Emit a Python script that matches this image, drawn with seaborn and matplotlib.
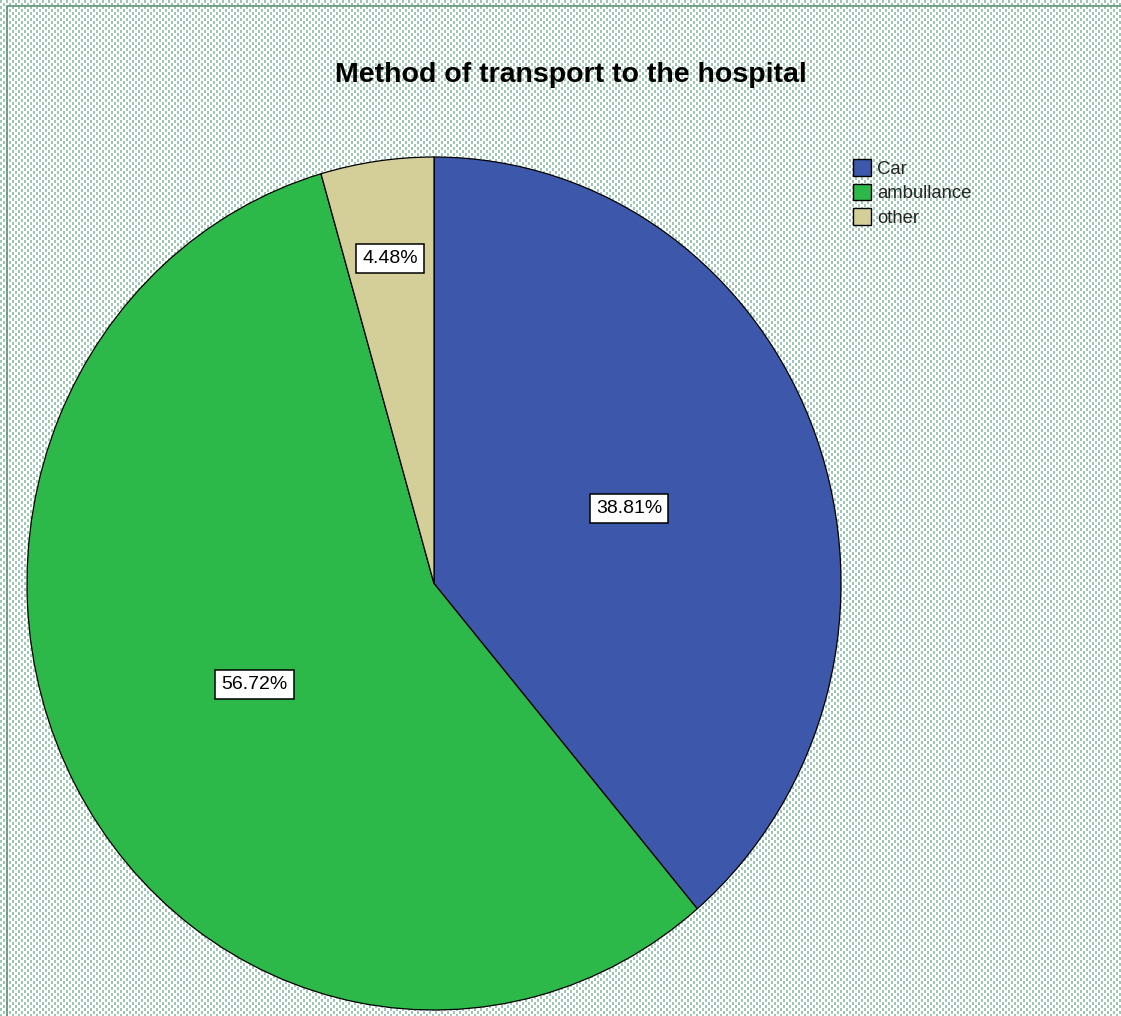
import numpy as np
import matplotlib
matplotlib.use("Agg")
import matplotlib.pyplot as plt
from matplotlib.patches import Patch, Rectangle
import seaborn as sns

# Data: patients by method of transport (n = 67)
categories = ["Car", "ambullance", "other"]
counts = [26, 38, 3]
colors = ["#3D57AB", "#2DB84A", "#D4CE99"]
label_radius = [0.51, 0.5, 0.77]
title = "Method of transport to the hospital"

sns.set_theme(style="white")
plt.rcParams["font.family"] = ["Liberation Sans", "DejaVu Sans"]

W, H = 1121, 1016
fig = plt.figure(figsize=(W / 100, H / 100), dpi=100)

# dotted backdrop
py, px = np.mgrid[0:H, 0:W]
dots = (((px % 6) < 2) & ((py % 6) < 3)) | ((((px + 3) % 6) < 2) & (((py + 3) % 6) < 3))
bg = np.ones((H, W, 3))
dot_rgb = np.array([0x9c, 0xc8, 0xb2]) / 255.0
bg[dots] = dot_rgb
fig.figimage(bg, xo=0, yo=0, origin="upper", zorder=-5)

# frame line along top and left
fig.add_artist(Rectangle((7 / W, -0.01), 1.2, (H - 6) / H + 0.01, transform=fig.transFigure,
                         fill=False, edgecolor="#5f9278", linewidth=1.2, zorder=-4))

ax = fig.add_axes([27 / W, 6 / H, (841 - 27) / W, (1010 - 157) / H], zorder=3)
ax.set_facecolor("none")
ax.patch.set_alpha(0)

wedges, _ = ax.pie(counts, colors=colors, startangle=90, counterclock=False,
                   wedgeprops=dict(edgecolor="black", linewidth=0.9))
ax.set_aspect("auto")
ax.set_xlim(-1, 1)
ax.set_ylim(-1, 1)
ax.axis("off")

total = sum(counts)
for w, c, r in zip(wedges, counts, label_radius):
    mid = np.deg2rad((w.theta1 + w.theta2) / 2)
    ax.text(r * np.cos(mid), r * np.sin(mid), f"{100 * c / total:.2f}%",
            ha="center", va="center", fontsize=14, color="black",
            bbox=dict(boxstyle="square,pad=0.32", facecolor="white",
                      edgecolor="black", linewidth=1.1))

fig.text(571 / W, 1 - 75 / H, title, ha="center", va="center",
         fontsize=20.5, fontweight="bold", color="black")

handles = [Patch(facecolor=col, edgecolor="black", linewidth=1.0) for col in colors]
fig.legend(handles, categories, loc="upper left", bbox_to_anchor=(853 / W, 1 - 159 / H),
           frameon=False, fontsize=13.3, handlelength=1.0, handleheight=1.0,
           handletextpad=0.3, labelspacing=0.32, borderaxespad=0, borderpad=0)

fig.savefig("out.png", dpi=100)
